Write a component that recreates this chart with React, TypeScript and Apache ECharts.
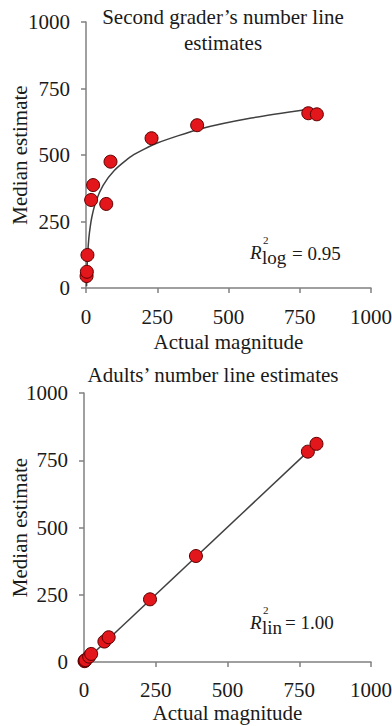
import React, { useEffect, useRef } from "react";
import * as echarts from "echarts";

// Actual magnitudes (shared by both panels)
const magnitudes = [2, 3, 5, 18, 25, 71, 86, 230, 390, 780, 810];
// Second graders' median estimates
const graderEstimates = [45, 61, 124, 331, 387, 316, 475, 563, 612, 657, 653];
// Adults' median estimates
const adultEstimates = [3, 5, 7, 20, 30, 76, 92, 233, 394, 782, 811];

// Logarithmic fit curve
const logFitX = [2, 3, 5, 8, 12, 20, 35, 60, 100, 160, 250, 400, 580, 780];
const logFitY = [7, 53, 110, 162, 207, 264, 326, 386, 443, 496, 545, 598, 639, 672];

// Linear fit line
const linFitX = [2, 780];
const linFitY = [2, 782];

const axisTicks = [0, 250, 500, 750, 1000];

const FONT = "'Liberation Serif', 'Times New Roman', serif";

const zip = (xs: number[], ys: number[]) => xs.map((x, i) => [x, ys[i]]);

export default function App() {
  const ref = useRef<HTMLDivElement>(null);

  useEffect(() => {
    if (!ref.current) return;
    const chart = echarts.init(ref.current, undefined, { renderer: "svg" });

    const axisCommon = {
      type: "value" as const,
      min: axisTicks[0],
      max: axisTicks[axisTicks.length - 1],
      interval: axisTicks[1] - axisTicks[0],
      splitLine: { show: false },
      axisLine: { show: true, onZero: false, lineStyle: { color: "#808080", width: 1.5 } },
      axisTick: { show: true, length: 5, lineStyle: { color: "#808080", width: 1.5 } },
      axisLabel: {
        fontSize: 21,
        fontFamily: FONT,
        color: "#1a1a1a",
        formatter: (v: number) => String(v),
      },
      nameLocation: "middle" as const,
      nameMoveOverlap: false,
      nameTextStyle: { fontSize: 21, fontFamily: FONT, color: "#1a1a1a" },
    };

    const scatterStyle = {
      type: "scatter" as const,
      symbol: "circle",
      symbolSize: 13,
      itemStyle: { color: "#e3161b", borderColor: "#5a0000", borderWidth: 1, opacity: 1 },
      z: 5,
    };

    const txt = (text: string, x: number, y: number, size: number, italic = false) => ({
      type: "text" as const,
      x,
      y,
      style: {
        text,
        fontSize: size,
        fontFamily: FONT,
        fontStyle: italic ? "italic" : "normal",
        fill: "#1a1a1a",
        verticalAlign: "middle",
        align: "left",
      },
    });

    const gridBase = { containLabel: false, outerBoundsMode: "none" };

    chart.setOption({
      animation: false,
      backgroundColor: "#ffffff",
      title: [
        {
          text: "Second grader\u2019s number line\nestimates",
          left: 218,
          top: -1,
          textAlign: "center",
          textStyle: { fontSize: 21, fontFamily: FONT, fontWeight: "normal", color: "#1a1a1a", lineHeight: 26 },
        },
        {
          text: "Adults\u2019 number line estimates",
          left: 208,
          top: 359,
          textAlign: "center",
          textStyle: { fontSize: 21, fontFamily: FONT, fontWeight: "normal", color: "#1a1a1a" },
        },
      ],
      grid: [
        { ...gridBase, left: 86, right: 21, top: 22, height: 266 },
        { ...gridBase, left: 84, right: 21, top: 393, height: 269 },
      ],
      xAxis: [
        { ...axisCommon, gridIndex: 0, name: "Actual magnitude", nameGap: 43, axisLabel: { ...axisCommon.axisLabel, margin: 18 } },
        { ...axisCommon, gridIndex: 1, name: "Actual magnitude", nameGap: 40, axisLabel: { ...axisCommon.axisLabel, margin: 17 } },
      ],
      yAxis: [
        { ...axisCommon, gridIndex: 0, name: "Median estimate", nameGap: 56, axisLabel: { ...axisCommon.axisLabel, margin: 16 } },
        { ...axisCommon, gridIndex: 1, name: "Median estimate", nameGap: 54, axisLabel: { ...axisCommon.axisLabel, margin: 16 } },
      ],
      series: [
        {
          type: "line",
          xAxisIndex: 0,
          yAxisIndex: 0,
          data: zip(logFitX, logFitY),
          showSymbol: false,
          smooth: 0.2,
          lineStyle: { color: "#404040", width: 1.5 },
          z: 2,
        },
        { ...scatterStyle, xAxisIndex: 0, yAxisIndex: 0, data: zip(magnitudes, graderEstimates) },
        {
          type: "line",
          xAxisIndex: 1,
          yAxisIndex: 1,
          data: zip(linFitX, linFitY),
          showSymbol: false,
          lineStyle: { color: "#404040", width: 1.5 },
          z: 2,
        },
        { ...scatterStyle, xAxisIndex: 1, yAxisIndex: 1, data: zip(magnitudes, adultEstimates) },
      ],
      graphic: [
        txt("R", 250, 252, 19, true),
        txt("2", 263, 240, 11),
        txt("log", 262, 257, 19),
        txt("= 0.95", 292, 253, 19),
        txt("R", 250, 622, 19, true),
        txt("2", 263, 610, 11),
        txt("lin", 262, 627, 19),
        txt("= 1.00", 285, 622, 19),
      ],
    });

    return () => chart.dispose();
  }, []);

  return (
    <div
      ref={ref}
      style={{ position: "fixed", left: 0, top: 0, width: 392, height: 726, background: "#fff" }}
    />
  );
}
